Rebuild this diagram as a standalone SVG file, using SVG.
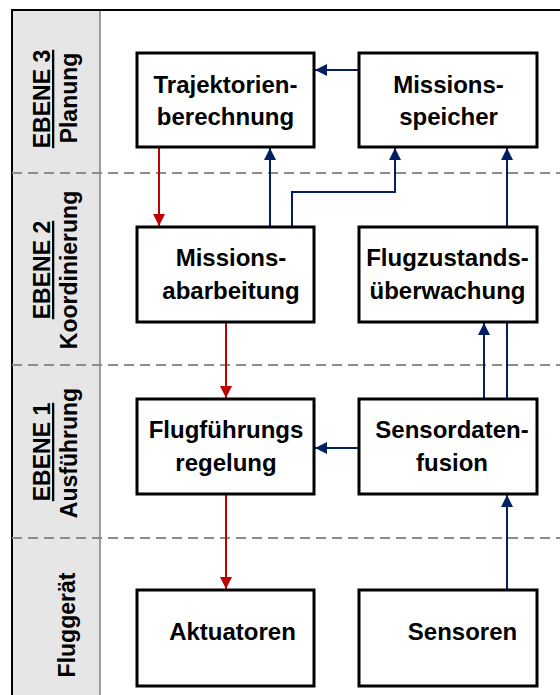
<svg xmlns="http://www.w3.org/2000/svg" width="560" height="695" viewBox="0 0 560 695">
<style>
.box{fill:#fff;stroke:#000;stroke-width:3}
.t{font-family:"Liberation Sans",Arial,sans-serif;font-weight:bold;font-size:24px;fill:#000;text-anchor:middle}
.lv{font-family:"Liberation Sans",Arial,sans-serif;font-weight:bold;font-size:23px;fill:#000;text-anchor:middle}
.u{text-decoration:underline}
.dash{stroke:#8c8c8c;stroke-width:2;stroke-dasharray:10 6;fill:none}
.red{stroke:#c00000;stroke-width:2;fill:none;marker-end:url(#ar)}
.blue{stroke:#002060;stroke-width:2;fill:none;marker-end:url(#ab)}
.bl{stroke:#002060;stroke-width:2;fill:none}
</style>
<defs>
<marker id="ar" markerUnits="userSpaceOnUse" markerWidth="13" markerHeight="12" refX="12" refY="6" orient="auto"><path d="M0,0 L12,6 L0,12 z" fill="#c00000"/></marker>
<marker id="ab" markerUnits="userSpaceOnUse" markerWidth="13" markerHeight="12" refX="12" refY="6" orient="auto"><path d="M0,0 L12,6 L0,12 z" fill="#002060"/></marker>
</defs>
<rect x="0" y="0" width="560" height="695" fill="#fff"/>
<g id="frame">
<rect x="12" y="10" width="88" height="690" fill="#e6e6e6"/>
<line x1="100" y1="10" x2="100" y2="695" stroke="#808080" stroke-width="1.5"/>
<path d="M12,695 L12,10 L560,10" fill="none" stroke="#000" stroke-width="2"/>
<line class="dash" x1="12" y1="173" x2="560" y2="173"/>
<line class="dash" x1="12" y1="365" x2="560" y2="365"/>
<line class="dash" x1="12" y1="538" x2="560" y2="538"/>
</g>
<g id="level3">
<text class="lv u" transform="translate(50,99) rotate(-90)">EBENE 3</text>
<text class="lv" transform="translate(77,98) rotate(-90)">Planung</text>
</g>
<g id="level2">
<text class="lv u" transform="translate(50,270) rotate(-90)">EBENE 2</text>
<text class="lv" transform="translate(77,270) rotate(-90)">Koordinierung</text>
</g>
<g id="level1">
<text class="lv u" transform="translate(50,452) rotate(-90)">EBENE 1</text>
<text class="lv" transform="translate(77,453) rotate(-90)">Ausführung</text>
</g>
<g id="level0">
<text class="lv" transform="translate(75,625) rotate(-90)">Fluggerät</text>
</g>
<g id="connectors">
<line class="red" x1="159" y1="148" x2="159" y2="226"/>
<line class="blue" x1="270" y1="226" x2="270" y2="148"/>
<path class="blue" d="M292,226 L292,192 L395,192 L395,148"/>
<line class="blue" x1="507" y1="226" x2="507" y2="148"/>
<line class="blue" x1="358" y1="70" x2="315" y2="70"/>
<line class="red" x1="226" y1="323" x2="226" y2="398"/>
<line class="blue" x1="484" y1="398" x2="484" y2="323"/>
<line class="bl" x1="507" y1="398" x2="507" y2="323"/>
<line class="blue" x1="358" y1="448" x2="315" y2="448"/>
<line class="red" x1="226" y1="495" x2="226" y2="589"/>
<line class="blue" x1="507" y1="589" x2="507" y2="495"/>
</g>
<g id="trajektorien">
<rect class="box" x="137" y="53" width="177" height="94"/>
<text class="t" x="225.5" y="93">Trajektorien-</text>
<text class="t" x="225.5" y="125">berechnung</text>
</g>
<g id="missionsspeicher">
<rect class="box" x="359" y="53" width="178" height="94"/>
<text class="t" x="448.5" y="93">Missions-</text>
<text class="t" x="448.5" y="125">speicher</text>
</g>
<g id="missionsabarbeitung">
<rect class="box" x="137" y="227" width="177" height="95"/>
<text class="t" x="231" y="266">Missions-</text>
<text class="t" x="231" y="299">abarbeitung</text>
</g>
<g id="flugzustand">
<rect class="box" x="359" y="227" width="178" height="95"/>
<text class="t" x="447.5" y="266">Flugzustands-</text>
<text class="t" x="447.5" y="299">überwachung</text>
</g>
<g id="flugfuehrung">
<rect class="box" x="137" y="399" width="177" height="95"/>
<text class="t" x="226" y="438">Flugführungs</text>
<text class="t" x="226" y="471">regelung</text>
</g>
<g id="sensordatenfusion">
<rect class="box" x="359" y="399" width="178" height="95"/>
<text class="t" x="452" y="438">Sensordaten-</text>
<text class="t" x="452" y="471">fusion</text>
</g>
<g id="aktuatoren">
<rect class="box" x="137" y="590" width="177" height="96"/>
<text class="t" x="232.5" y="640">Aktuatoren</text>
</g>
<g id="sensoren">
<rect class="box" x="359" y="590" width="178" height="96"/>
<text class="t" x="462.5" y="640">Sensoren</text>
</g>
</svg>
